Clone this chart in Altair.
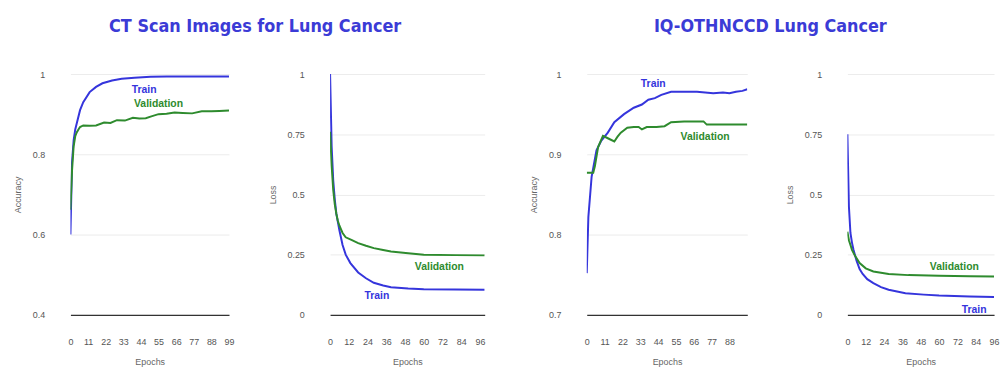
import altair as alt
import pandas as pd

BLUE = "#3535dc"
GREEN = "#2e8b2e"
TITLE_BLUE = "#3b3bd6"

# ---- CT Scan Images for Lung Cancer : accuracy ----
ct_acc_train_epochs = [0, 1, 2, 3, 4, 6, 8, 12, 16, 20, 26, 32, 40, 50, 60, 70, 80, 90, 99]
ct_acc_train = [0.60, 0.78, 0.835, 0.862, 0.878, 0.91, 0.93, 0.955, 0.968, 0.977, 0.984, 0.988,
                0.991, 0.993, 0.994, 0.994, 0.994, 0.994, 0.994]
ct_acc_val_epochs = [0, 1, 2, 3, 4, 5, 6, 8, 12, 16, 21, 25, 29, 34, 39, 43, 47, 51, 55, 60, 65,
                     70, 76, 82, 88, 93, 99]
ct_acc_val = [0.662, 0.76, 0.82, 0.845, 0.855, 0.862, 0.868, 0.872, 0.871, 0.872, 0.879, 0.878,
              0.885, 0.884, 0.891, 0.889, 0.890, 0.895, 0.900, 0.901, 0.904, 0.903, 0.902,
              0.907, 0.907, 0.908, 0.909]

# ---- CT Scan Images for Lung Cancer : loss ----
ct_loss_train_epochs = [0, 1, 2, 3, 4, 5, 6, 8, 10, 13, 18, 23, 28, 34, 39, 50, 60, 80, 99]
ct_loss_train = [1.0, 0.70, 0.56, 0.48, 0.42, 0.385, 0.35, 0.29, 0.25, 0.215, 0.176, 0.152,
                 0.133, 0.122, 0.115, 0.109, 0.106, 0.105, 0.104]
ct_loss_val_epochs = [0, 1, 2, 3, 4, 5, 6, 8, 10, 14, 18, 23, 28, 34, 39, 50, 60, 80, 99]
ct_loss_val = [0.76, 0.62, 0.52, 0.46, 0.42, 0.39, 0.37, 0.34, 0.322, 0.31, 0.298, 0.287,
               0.277, 0.269, 0.263, 0.256, 0.25, 0.248, 0.247]

# ---- IQ-OTHNCCD Lung Cancer : accuracy ----
iq_acc_train_epochs = [0, 1, 3, 6, 9, 13, 17, 23, 29, 34, 38, 42, 46, 52, 60, 68, 73, 78, 84,
                       88, 92, 96, 99]
iq_acc_train = [0.752, 0.822, 0.872, 0.905, 0.917, 0.927, 0.940, 0.950, 0.958, 0.962, 0.968,
                0.970, 0.974, 0.978, 0.978, 0.978, 0.977, 0.976, 0.977, 0.976, 0.978, 0.979,
                0.981]
iq_acc_val_epochs = [0, 2, 4, 5, 7, 10, 13, 17, 19, 21, 25, 29, 32, 34, 37, 43, 48, 52, 60, 66,
                     72, 74, 80, 90, 99]
iq_acc_val = [0.877, 0.877, 0.877, 0.885, 0.909, 0.923, 0.920, 0.916, 0.922, 0.927, 0.933,
              0.934, 0.934, 0.931, 0.934, 0.934, 0.935, 0.940, 0.941, 0.941, 0.941, 0.937,
              0.937, 0.937, 0.937]

# ---- IQ-OTHNCCD Lung Cancer : loss ----
iq_loss_train_epochs = [0, 1, 2, 3, 4, 6, 8, 10, 13, 17, 22, 27, 38, 50, 60, 80, 96]
iq_loss_train = [0.75, 0.45, 0.34, 0.30, 0.27, 0.225, 0.19, 0.17, 0.148, 0.132, 0.115, 0.104,
                 0.09, 0.084, 0.080, 0.076, 0.074]
iq_loss_val_epochs = [0, 1, 2, 3, 5, 8, 12, 17, 27, 40, 60, 80, 96]
iq_loss_val = [0.345, 0.31, 0.29, 0.27, 0.245, 0.215, 0.193, 0.18, 0.17, 0.165, 0.162, 0.160,
               0.159]

series_names = ["Train", "Validation"]

# in-chart line labels (epoch, value) per panel
label_text = ["Train", "Validation"]
ct_acc_label_x = [46, 55]
ct_acc_label_y = [0.960, 0.926]
ct_loss_label_x = [30, 70]
ct_loss_label_y = [0.078, 0.198]
iq_acc_label_x = [41, 73]
iq_acc_label_y = [0.988, 0.922]
iq_loss_label_x = [83, 70]
iq_loss_label_y = [0.02, 0.198]

x_ticks_11 = [0, 11, 22, 33, 44, 55, 66, 77, 88, 99]
x_ticks_12 = [0, 12, 24, 36, 48, 60, 72, 84, 96]


def long_df(te, tv, ve, vv):
    rows = [{"epoch": e, "value": v, "series": "Train"} for e, v in zip(te, tv)]
    rows += [{"epoch": e, "value": v, "series": "Validation"} for e, v in zip(ve, vv)]
    return pd.DataFrame(rows)


def label_df(xs, ys):
    return pd.DataFrame({"epoch": xs, "value": ys, "series": label_text})


color_scale = alt.Scale(domain=series_names, range=[BLUE, GREEN])


def panel(df, ldf, ytitle, ydomain, yticks, xdomain, xticks, width):
    x = alt.X("epoch:Q", scale=alt.Scale(domain=xdomain, nice=False, zero=False),
              axis=alt.Axis(values=xticks, title="Epochs", labelOverlap=False,
                            labelFlush=False, labelBound=False, grid=False, ticks=False,
                            domain=True, domainColor="#333333", domainWidth=1.3,
                            labelPadding=23, titlePadding=11, format="d"))
    y = alt.Y("value:Q", scale=alt.Scale(domain=ydomain, nice=False, zero=False),
              axis=alt.Axis(values=yticks, title=ytitle, grid=True, gridColor="#ececec",
                            ticks=False, domain=False, labelPadding=26, titlePadding=10,
                            format=".2~f", labelOverlap=False))
    color = alt.Color("series:N", scale=color_scale, legend=None)
    lines = alt.Chart(df).mark_line(strokeWidth=2, clip=True).encode(
        x=x, y=y, color=color, detail="series:N",
    )
    labels = alt.Chart(ldf).mark_text(fontWeight="bold", fontSize=10.5,
                                      font="Liberation Sans").encode(
        x=x, y=y, text="series:N", color=color,
    )
    return alt.layer(lines, labels).properties(width=width, height=243)


p1 = panel(long_df(ct_acc_train_epochs, ct_acc_train, ct_acc_val_epochs, ct_acc_val),
           label_df(ct_acc_label_x, ct_acc_label_y), "Accuracy", [0.4, 1],
           [0.4, 0.6, 0.8, 1], [0, 99], x_ticks_11, 160)
p2 = panel(long_df(ct_loss_train_epochs, ct_loss_train, ct_loss_val_epochs, ct_loss_val),
           label_df(ct_loss_label_x, ct_loss_label_y), "Loss", [0, 1],
           [0, 0.25, 0.5, 0.75, 1], [0, 99], x_ticks_12, 156)
p3 = panel(long_df(iq_acc_train_epochs, iq_acc_train, iq_acc_val_epochs, iq_acc_val),
           label_df(iq_acc_label_x, iq_acc_label_y), "Accuracy", [0.7, 1],
           [0.7, 0.8, 0.9, 1], [0, 99], x_ticks_11[:-1], 162)
p4 = panel(long_df(iq_loss_train_epochs, iq_loss_train, iq_loss_val_epochs, iq_loss_val),
           label_df(iq_loss_label_x, iq_loss_label_y), "Loss", [0, 1],
           [0, 0.25, 0.5, 0.75, 1], [0, 96], x_ticks_12, 148)

title_kw = dict(fontSize=18, font="'DejaVu Sans Condensed', 'Liberation Sans', sans-serif",
                fontWeight="bold", color=TITLE_BLUE, anchor="middle", offset=34, dx=6)

g1 = alt.hconcat(p1, p2, spacing=33).properties(
    title=alt.TitleParams("CT Scan Images for Lung Cancer", **title_kw))
g2 = alt.hconcat(p3, p4, spacing=38).properties(
    title=alt.TitleParams("IQ-OTHNCCD Lung Cancer", **title_kw))

chart = alt.hconcat(g1, g2, spacing=44).properties(
    padding={"left": 5, "top": 9, "right": 0, "bottom": 0}
).configure_view(stroke=None).configure_axis(
    labelFont="Liberation Sans", titleFont="Liberation Sans", labelFontSize=9,
    titleFontSize=9, labelColor="#555555", titleColor="#666666", titleFontWeight="normal"
)

chart.save("out.html", embed_options={"renderer": "svg", "actions": False})
